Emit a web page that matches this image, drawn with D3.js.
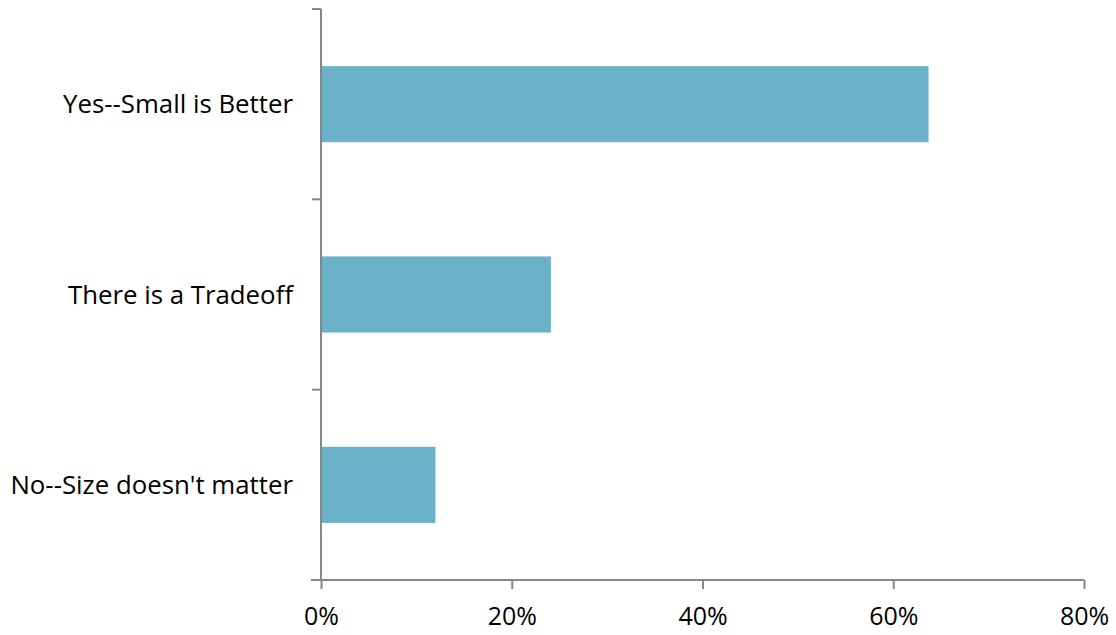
<!DOCTYPE html>
<html lang="en">
<head>
    <meta charset="UTF-8">
    <title>Small is Better</title>
    <script src="https://cdn.jsdelivr.net/npm/d3@7"></script>
    <style>
        body {
            margin: 0;
            background: #fff;
        }

        text {
            font-family: "Open Sans", sans-serif;
            font-size: 25px;
            fill: #000;
        }
    </style>
</head>
<body>
    <script>
        const categories = ["Yes--Small is Better", "There is a Tradeoff", "No--Size doesn't matter"];
        const shares = [0.637, 0.241, 0.12];
        const xTicks = [0, 0.2, 0.4, 0.6, 0.8];

        const width = 1116;
        const height = 635;
        const margin = { top: 9, right: 32, bottom: 55, left: 321 };

        const svg = d3.select("body").append("svg")
            .attr("width", width)
            .attr("height", height);

        const x = d3.scaleLinear()
            .domain([0, 0.8])
            .range([margin.left, width - margin.right]);

        const y = d3.scaleBand()
            .domain(categories)
            .range([margin.top, height - margin.bottom])
            .paddingInner(0.6)
            .paddingOuter(0.3);

        const axisColor = "#868686";

        // bars
        svg.append("g")
            .selectAll("rect")
            .data(categories)
            .join("rect")
            .attr("x", x(0))
            .attr("y", d => y(d))
            .attr("width", (d, i) => x(shares[i]) - x(0))
            .attr("height", y.bandwidth())
            .attr("fill", "#6BB1CA");

        // x axis
        const xAxis = svg.append("g")
            .attr("transform", `translate(0,${height - margin.bottom})`)
            .call(d3.axisBottom(x).tickValues(xTicks).tickFormat(d3.format(".0%")).tickSizeInner(9).tickSizeOuter(0).tickPadding(18));
        xAxis.select(".domain").attr("stroke", axisColor).attr("stroke-width", 2)
            .attr("d", `M${margin.left - 10},0H${width - margin.right}`);
        xAxis.selectAll(".tick line").attr("stroke", axisColor).attr("stroke-width", 2);
        xAxis.selectAll("text").style("font-size", "25px").style("font-family", "'Open Sans', sans-serif").attr("fill", "#000");

        // y axis: ticks sit on band boundaries
        const bounds = d3.range(categories.length + 1).map(i => margin.top + i * y.step());
        const yAxis = svg.append("g");
        yAxis.append("line")
            .attr("x1", margin.left).attr("x2", margin.left)
            .attr("y1", margin.top).attr("y2", height - margin.bottom)
            .attr("stroke", axisColor).attr("stroke-width", 2);
        yAxis.selectAll(".ytick")
            .data(bounds.slice(0, -1))
            .join("line")
            .attr("class", "ytick")
            .attr("x1", margin.left - 9).attr("x2", margin.left)
            .attr("y1", d => d).attr("y2", d => d)
            .attr("stroke", axisColor).attr("stroke-width", 2);

        yAxis.selectAll(".ylabel")
            .data(categories)
            .join("text")
            .attr("class", "ylabel")
            .attr("x", margin.left - 28)
            .attr("y", d => y(d) + y.bandwidth() / 2)
            .attr("dy", "0.35em")
            .attr("text-anchor", "end")
            .style("font-size", "25.8px")
            .text(d => d);
    </script>
</body>
</html>
